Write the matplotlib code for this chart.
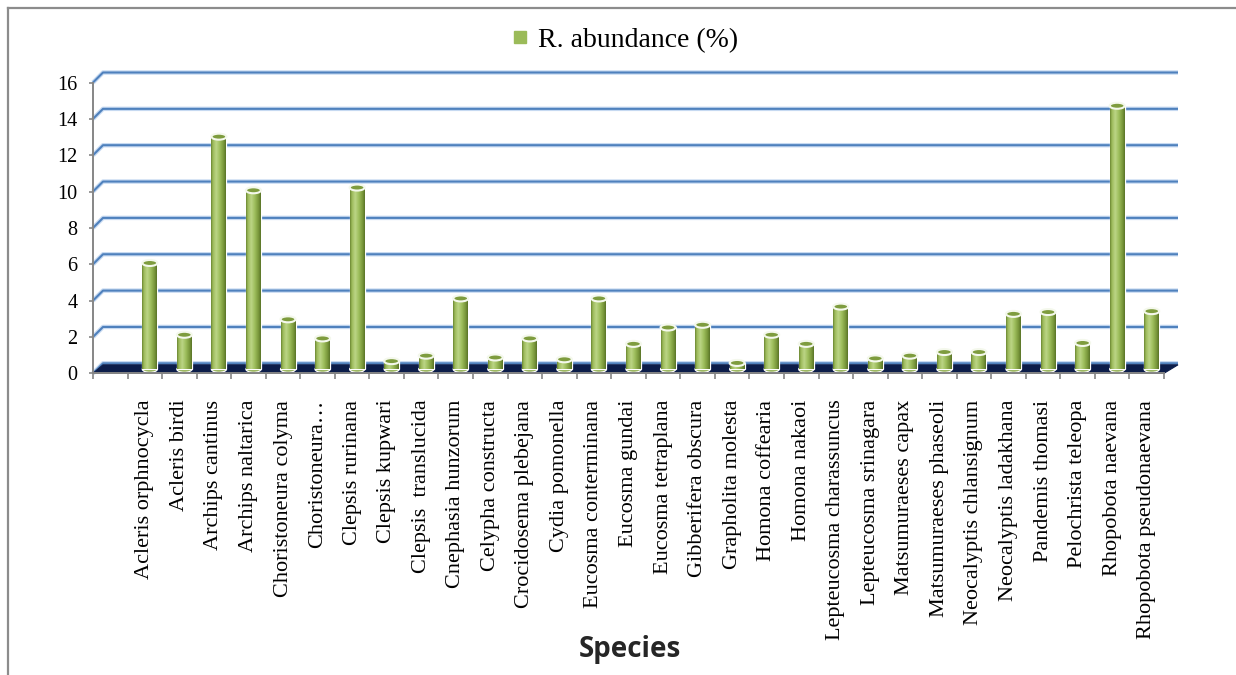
import numpy as np
import matplotlib.pyplot as plt
from matplotlib.patches import Ellipse, Polygon
from matplotlib.lines import Line2D

species = [
    "Acleris orphnocycla", "Acleris birdi", "Archips cantinus", "Archips naltarica",
    "Choristoneura colyma", "Choristoneura\u2026", "Clepsis rurinana", "Clepsis kupwari",
    "Clepsis  translucida", "Cnephasia hunzorum", "Celypha constructa",
    "Crocidosema plebejana", "Cydia pomonella", "Eucosma conterminana",
    "Eucosma gundai", "Eucosma tetraplana", "Gibberifera obscura",
    "Grapholita molesta", "Homona coffearia", "Homona nakaoi",
    "Lepteucosma charassuncus", "Lepteucosma srinagara", "Matsumuraeses capax",
    "Matsumuraeses phaseoli", "Neocalyptis chlansignum", "Neocalyptis ladakhana",
    "Pandemis thomasi", "Pelochrista teleopa", "Rhopobota naevana",
    "Rhopobota pseudonaevana",
]
abundance = [
    5.85, 1.9, 12.8, 9.85, 2.75, 1.7, 10.0, 0.45, 0.75, 3.9,
    0.65, 1.7, 0.55, 3.9, 1.4, 2.3, 2.45, 0.35, 1.9, 1.4,
    3.45, 0.6, 0.75, 0.95, 0.95, 3.05, 3.15, 1.45, 14.5, 3.2,
]
y_ticks = np.arange(0, 17, 2)
legend_label = "R. abundance (%)"

W, H = 1236, 675
SERIF = "Liberation Serif"
GREEN = "#9bbb59"

fig = plt.figure(figsize=(W / 100, H / 100), dpi=100)
ax_l, ax_r, ax_top, ax_bot = 93, 1164, 82.5, 373.3
ax = fig.add_axes([ax_l / W, (H - ax_bot) / H, (ax_r - ax_l) / W, (ax_bot - ax_top) / H])

n = len(species)
x = np.arange(n)
x0, x1 = -1.5, n - 0.5
ax.set_xlim(x0, x1)
ax.set_ylim(0, y_ticks[-1])

# data units per pixel, used for the fake 3D depth
ux = (x1 - x0) / (ax_r - ax_l)
uy = y_ticks[-1] / (ax_bot - ax_top)
dep_x, dep_y = 10 * ux, 10 * uy

# back wall gridlines with the bend at the left wall
for yv in y_ticks:
    xs = [x0, x0 + dep_x, x1 + dep_x + 4 * ux]
    ys = [yv, yv + dep_y, yv + dep_y]
    ax.plot(xs, ys, color="#c6d9f1", lw=3.2, zorder=1, clip_on=False,
            solid_capstyle="butt")
    ax.plot(xs, ys, color="#4f81bd", lw=1.5, zorder=1.1, clip_on=False,
            solid_capstyle="butt")

# floor slab
floor = Polygon([[x0, 0], [x1, 0], [x1 + dep_x + 4 * ux, dep_y * 0.85],
                 [x0 + dep_x, dep_y * 0.85]],
                closed=True, facecolor="#0c1d4a", edgecolor="#0c1d4a",
                lw=0.8, zorder=2, clip_on=False)
ax.add_patch(floor)

# cylinder-ish bars at mid depth
bw = 15 * ux
mid_x, mid_y = 5 * ux, 4 * uy
bars = ax.bar(x + mid_x, abundance, width=bw, bottom=mid_y, color=GREEN,
              edgecolor="white", linewidth=0.9, zorder=3, clip_on=False)

stops = np.array([0.0, 0.12, 0.35, 0.6, 0.85, 1.0])
cols = np.array([[0x6a, 0x86, 0x32], [0x9c, 0xba, 0x5a], [0xbc, 0xd5, 0x86],
                 [0x9d, 0xbd, 0x5b], [0x78, 0x96, 0x3a], [0x5a, 0x74, 0x28]]) / 255
t = np.linspace(0, 1, 64)
grad = np.stack([np.interp(t, stops, cols[:, k]) for k in range(3)], axis=-1)[None, :, :]

ell_h = 6 * uy
for b in bars:
    l, bt = b.get_x(), b.get_y()
    w, h = b.get_width(), b.get_height()
    im = ax.imshow(grad, extent=[l, l + w, bt, bt + h], aspect="auto",
                   zorder=3.1, interpolation="bilinear")
    im.set_clip_path(b)
    im.set_clip_on(True)
    # rounded bottom
    ax.add_patch(Ellipse((l + w / 2, bt), w, ell_h, facecolor="#8fae4c",
                         edgecolor="white", lw=0.9, zorder=2.9, clip_on=False))
    # top cap
    ax.add_patch(Ellipse((l + w / 2, bt + h), w, ell_h, facecolor="#7e9c3e",
                         edgecolor="#f4f8ec", lw=1.5, zorder=3.3, clip_on=False))

ax.set_xlim(x0, x1)
ax.set_ylim(0, y_ticks[-1])

# axes, ticks, labels
for s in ["top", "right"]:
    ax.spines[s].set_visible(False)
for s in ["left", "bottom"]:
    ax.spines[s].set_color("#868686")
    ax.spines[s].set_linewidth(1.4)
    ax.spines[s].set_zorder(4)

ax.set_yticks(y_ticks)
ax.set_yticklabels([str(v) for v in y_ticks], fontfamily=SERIF, fontsize=14.5)
ax.tick_params(axis="y", length=3, width=1.2, color="#868686", pad=8)

ax.set_xticks(x)
ax.set_xticklabels(species, rotation=90, fontfamily=SERIF, fontsize=16,
                   va="top", ha="center")
ax.set_xticks(np.arange(x0, x1 + 0.5, 1), minor=True)
ax.tick_params(axis="x", which="major", length=0, pad=19)
ax.tick_params(axis="x", which="minor", length=4, width=1.2, color="#868686")
ax.patch.set_alpha(0)

fig.text(630 / W, 1 - 650 / H, "Species", ha="center", va="center",
         fontfamily="Open Sans", fontweight="bold", fontsize=20, color="#262626")

handle = Line2D([], [], marker="s", ls="", color=GREEN, markersize=9)
fig.legend([handle], [legend_label], loc="center", bbox_to_anchor=(624 / W, 1 - 40 / H),
           frameon=False, prop={"family": SERIF, "size": 20},
           handlelength=0.7, handletextpad=0.3)

# outer frame (left and top visible)
fig.add_artist(Line2D([8 / W, 8 / W], [0, 1 - 8 / H], transform=fig.transFigure,
                      color="#8c8c8c", lw=1.6))
fig.add_artist(Line2D([8 / W, 1], [1 - 8 / H, 1 - 8 / H], transform=fig.transFigure,
                      color="#8c8c8c", lw=1.6))

fig.savefig("out.png", dpi=100)
